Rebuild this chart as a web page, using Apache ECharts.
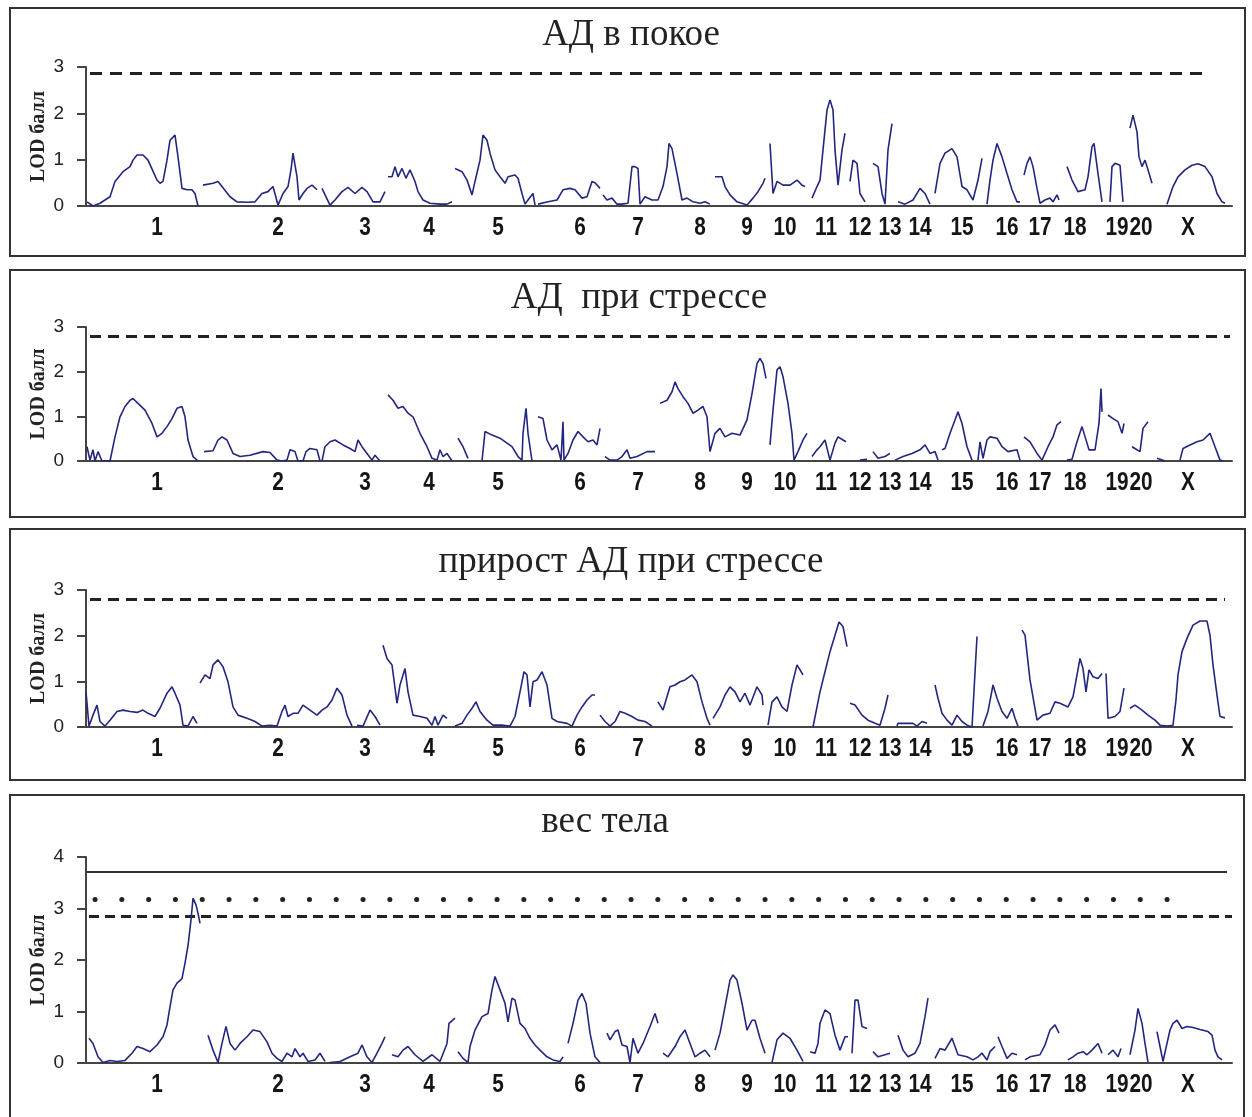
<!DOCTYPE html>
<html><head><meta charset="utf-8">
<script src="https://cdn.jsdelivr.net/npm/echarts@6/dist/echarts.min.js"></script>
<style>html,body{margin:0;padding:0;background:#fff}#c{width:1252px;height:1117px}</style>
</head><body><div id="c"></div>
<script>
// chromosome tick labels and their positions on the genome axis
const chromNames = ['1','2','3','4','5','6','7','8','9','10','11','12','13','14','15','16','17','18','19','20','X'];
const chromCenters = [71,192,279,343,412,494,552,614,661,699,740,774,804,834,876,921,954,989,1031,1055,1102];
const panelTitles = ['АД в покое','АД  при стрессе','прирост АД при стрессе','вес тела'];
const yName = 'LOD балл';
// thresholds (LOD)
const restThreshold = 2.87;
const stressThreshold = 2.8;
const gainThreshold = 2.8;
const weightThresholds = [3.71, 3.17, 2.84]; // solid, dotted, dashed

// LOD profiles: segments of [genome position, LOD]
const restLOD = [
 [[1,0.09],[7,0],[14,0.06],[24,0.2],[29,0.53],[37,0.74],[44,0.85],[47,0.99],[51,1.1],[57,1.1],[62,0.99],[71,0.56],[74,0.49],[77,0.53],[81,0.99],[84,1.42],[89,1.53],[92,1.06],[96,0.38],[101,0.35],[106,0.35],[109,0.27],[112,0]],
 [[117,0.45],[127,0.49],[132,0.53],[136,0.42],[144,0.2],[151,0.09],[161,0.08],[169,0.09],[176,0.27],[182,0.31],[187,0.42],[192,0.02],[197,0.27],[202,0.42],[205,0.78],[207,1.14],[211,0.63],[213,0.13],[217,0.27],[221,0.38],[226,0.45],[231,0.35]],
 [[236,0.38],[244,0.02],[249,0.13],[256,0.31],[262,0.4],[269,0.27],[276,0.4],[281,0.31],[287,0.09],[294,0.09],[299,0.31]],
 [[302,0.63],[306,0.63],[309,0.85],[312,0.63],[316,0.81],[320,0.6],[324,0.78],[329,0.53],[332,0.31],[337,0.13],[344,0.06],[354,0.04],[361,0.04],[366,0.09]],
 [[369,0.81],[376,0.74],[381,0.56],[386,0.24],[389,0.53],[394,0.99],[397,1.53],[401,1.42],[404,1.14],[409,0.78],[414,0.63],[419,0.49],[422,0.63],[429,0.67],[432,0.6],[436,0.27],[439,0.04],[442,0.13],[447,0.27],[449,0.02]],
 [[452,0.04],[454,0.07],[462,0.09],[471,0.13],[477,0.35],[484,0.38],[489,0.35],[496,0.17],[501,0.2],[506,0.53],[509,0.5],[514,0.38]],
 [[517,0.24],[521,0.13],[526,0.17],[531,0.04],[536,0.04],[542,0.06],[546,0.85],[549,0.85],[552,0.81],[554,0.04],[559,0.2],[566,0.13],[572,0.13],[577,0.42],[581,0.85],[583,1.35],[586,1.24],[591,0.7],[596,0.13],[601,0.17],[607,0.09],[614,0.06],[619,0.09],[624,0.04]],
 [[629,0.63],[636,0.63],[639,0.42],[644,0.24],[651,0.09],[661,0.02],[667,0.17],[672,0.31],[677,0.49],[679,0.6]],
 [[684,1.35],[687,0.27],[691,0.53],[697,0.45],[704,0.45],[711,0.56],[716,0.45],[719,0.42]],
 [[726,0.17],[731,0.42],[734,0.56],[737,1.21],[741,2.07],[744,2.29],[747,2.07],[749,1.21],[752,0.45],[756,1.21],[759,1.57]],
 [[764,0.53],[767,0.99],[771,0.92],[774,0.27],[779,0.09]],
 [[787,0.92],[792,0.85],[796,0.27],[799,0.04],[802,1.21],[806,1.78]],
 [[812,0.09],[819,0.04],[827,0.13],[834,0.38],[839,0.27],[844,0.04]],
 [[849,0.27],[854,0.92],[859,1.14],[866,1.24],[871,1.06],[876,0.42],[881,0.35],[887,0.13],[892,0.56],[896,1.03]],
 [[901,0.04],[904,0.56],[907,0.99],[911,1.35],[916,1.06],[921,0.7],[926,0.35],[931,0.09],[934,0.09]],
 [[938,0.67],[941,0.92],[944,1.06],[947,0.85],[951,0.38],[954,0.06],[959,0.13],[964,0.17],[967,0.09],[971,0.24],[973,0.13]],
 [[981,0.85],[986,0.56],[992,0.31],[999,0.35],[1002,0.63],[1006,1.28],[1008,1.35],[1012,0.7],[1016,0.09]],
 [[1024,0.09],[1026,0.85],[1029,0.92],[1034,0.88],[1037,0.09]],
 [[1044,1.68],[1047,1.96],[1051,1.6],[1053,1.06],[1056,0.85],[1059,0.99],[1062,0.78],[1066,0.49]],
 [[1081,0.04],[1087,0.42],[1092,0.63],[1099,0.78],[1106,0.88],[1112,0.91],[1119,0.85],[1126,0.63],[1131,0.27],[1136,0.09],[1139,0.06]]
];
const stressLOD = [
 [[1,0.32],[4,0.02],[7,0.25],[9,0],[12,0.21],[16,0],[24,0],[29,0.54],[34,0.99],[39,1.22],[44,1.36],[47,1.4],[52,1.29],[59,1.14],[66,0.84],[71,0.54],[76,0.62],[81,0.77],[86,0.95],[91,1.18],[96,1.22],[99,0.99],[102,0.47],[107,0.1],[112,0]],
 [[118,0.21],[127,0.23],[132,0.47],[136,0.54],[141,0.47],[147,0.17],[154,0.1],[164,0.13],[177,0.21],[184,0.19],[191,0.02],[196,0],[201,0.02],[204,0.25],[209,0.21],[212,0],[217,0],[220,0.21],[224,0.28],[231,0.25],[234,0]],
 [[236,0],[239,0.32],[244,0.43],[249,0.47],[257,0.36],[264,0.28],[269,0.21],[272,0.47],[276,0.32],[281,0.17],[286,0.02],[289,0.13],[294,0]],
 [[302,1.48],[307,1.36],[312,1.18],[317,1.22],[322,1.07],[327,0.99],[334,0.62],[341,0.32],[346,0.06],[351,0.02],[354,0.25],[357,0.1],[361,0.17],[366,0]],
 [[372,0.51],[377,0.32],[382,0.06]],
 [[396,0],[399,0.66],[406,0.58],[414,0.51],[421,0.4],[426,0.32],[432,0.1],[436,0.02],[437,0.62],[440,1.18],[442,0.62],[446,0]],
 [[452,0.99],[457,0.95],[461,0.47],[466,0.25],[471,0.36],[475,0.02],[477,0.88],[478,0.02],[482,0.17],[487,0.47],[492,0.66],[497,0.54],[502,0.43],[507,0.47],[511,0.36],[514,0.73]],
 [[519,0.1],[524,0.02],[531,0.02],[536,0.1],[541,0.25],[544,0.06],[551,0.1],[561,0.21],[569,0.21]],
 [[574,1.29],[581,1.36],[586,1.55],[589,1.77],[592,1.62],[597,1.44],[602,1.29],[607,1.07],[612,1.14],[617,1.22],[621,0.99],[624,0.21],[629,0.62],[634,0.73],[639,0.54],[646,0.62],[654,0.58],[661,0.92],[666,1.51],[671,2.18],[674,2.3],[677,2.18],[680,1.85]],
 [[684,0.36],[687,1.14],[691,2.04],[694,2.11],[697,1.89],[702,1.29],[706,0.62],[708,0.02],[712,0.21],[717,0.47],[721,0.62]],
 [[726,0.1],[731,0.25],[734,0.32],[739,0.47],[744,0.02],[749,0.4],[752,0.54],[757,0.47],[760,0.43]],
 [[774,0.02],[781,0.04]],
 [[787,0.21],[792,0.06],[799,0.1],[804,0.17]],
 [[809,0.02],[817,0.1],[826,0.17],[834,0.25],[839,0.36],[844,0.17],[849,0.21],[852,0.02]],
 [[856,0.25],[859,0.28],[864,0.62],[869,0.92],[872,1.1],[876,0.84],[881,0.32],[886,0.02]],
 [[892,0.02],[894,0.43],[897,0.06],[901,0.47],[904,0.54],[911,0.51],[916,0.32],[922,0.21],[931,0.25],[934,0.02]],
 [[938,0.54],[944,0.43],[951,0.17],[956,0.02],[962,0.32],[967,0.54],[971,0.81],[975,0.88]],
 [[981,0.02],[986,0.04],[991,0.43],[996,0.77],[1001,0.4],[1003,0.25],[1009,0.25],[1013,0.84],[1015,1.62],[1016,1.1]],
 [[1022,1.03],[1027,0.95],[1032,0.88],[1036,0.62],[1038,0.84]],
 [[1046,0.32],[1049,0.28],[1054,0.21],[1057,0.73],[1062,0.88]],
 [[1071,0.06],[1074,0.04],[1079,0]],
 [[1094,0.02],[1097,0.28],[1104,0.36],[1111,0.43],[1117,0.47],[1124,0.62],[1129,0.32],[1134,0.02],[1137,0]]
];
const gainLOD = [
 [[0,0.77],[3,0.02],[7,0.26],[11,0.48],[14,0.12],[19,0.02],[24,0.15],[31,0.34],[37,0.37],[44,0.34],[51,0.32],[57,0.37],[62,0.3],[69,0.23],[74,0.41],[81,0.74],[86,0.88],[89,0.74],[94,0.48],[97,0.04],[102,0.02],[107,0.23],[111,0.08]],
 [[114,0.96],[119,1.14],[124,1.06],[127,1.36],[132,1.47],[137,1.32],[142,0.99],[147,0.44],[152,0.26],[161,0.19],[169,0.12],[176,0.02],[184,0.04],[191,0.02],[196,0.34],[199,0.48],[202,0.23],[207,0.3],[212,0.3],[217,0.48],[224,0.37],[231,0.26],[236,0.37],[241,0.44],[246,0.59],[251,0.85],[256,0.7],[261,0.26],[266,0.02]],
 [[271,0.04],[277,0.02],[284,0.37],[289,0.23],[294,0.04]],
 [[297,1.79],[301,1.5],[306,1.36],[311,0.52],[314,0.92],[319,1.28],[322,0.77],[327,0.26],[334,0.23],[341,0.19],[346,0.04],[349,0.23],[352,0.04],[357,0.26],[361,0.19]],
 [[369,0.02],[376,0.08],[381,0.26],[386,0.41],[390,0.55],[394,0.34],[401,0.15],[407,0.04],[417,0.04],[424,0.02],[429,0.23],[434,0.77],[438,1.21],[441,1.14],[444,0.44],[447,0.99],[451,1.03],[456,1.21],[457,1.25],[461,0.92],[466,0.19],[471,0.12],[481,0.08],[486,0.02],[491,0.26],[496,0.44],[501,0.59],[506,0.7],[509,0.7]],
 [[514,0.26],[519,0.12],[524,0.02],[529,0.12],[534,0.34],[539,0.3],[546,0.23],[552,0.15],[559,0.12],[566,0.02]],
 [[572,0.55],[577,0.37],[584,0.88],[589,0.92],[594,0.99],[599,1.03],[606,1.14],[611,0.99],[616,0.55],[621,0.19],[624,0.04]],
 [[627,0.19],[634,0.44],[639,0.7],[644,0.88],[649,0.77],[654,0.55],[659,0.74],[664,0.48],[671,0.88],[676,0.7],[677,0.48]],
 [[682,0.04],[686,0.55],[691,0.66],[696,0.44],[701,0.34],[706,0.92],[711,1.36],[717,1.14]],
 [[727,0],[734,0.77],[739,1.21],[744,1.65],[749,2.01],[753,2.3],[757,2.2],[761,1.76]],
 [[764,0.52],[769,0.48],[776,0.26],[782,0.15],[789,0.08],[794,0.04],[799,0.41],[802,0.7]],
 [[811,0.02],[812,0.08],[827,0.08],[831,0.02],[836,0.12],[841,0.08]],
 [[849,0.92],[852,0.63],[856,0.3],[861,0.15],[866,0.04],[871,0.26],[876,0.12],[881,0.04],[886,0],[891,1.98]],
 [[897,0.02],[902,0.34],[907,0.92],[911,0.63],[916,0.34],[921,0.19],[926,0.41],[929,0.19],[932,0.02]],
 [[936,2.12],[939,2.01],[944,1.03],[951,0.15],[957,0.26],[964,0.3],[969,0.55],[974,0.52],[982,0.44],[987,0.66],[991,1.14],[994,1.5],[997,1.28],[1000,0.77],[1003,1.25],[1007,1.1],[1012,1.06],[1016,1.17]],
 [[1020,1.17],[1022,0.19],[1029,0.23],[1034,0.34],[1038,0.85]],
 [[1044,0.41],[1049,0.48],[1056,0.37],[1062,0.26],[1069,0.15],[1074,0.04],[1081,0.02],[1087,0.04],[1090,0.6],[1092,1.14],[1096,1.65],[1101,1.94],[1107,2.23],[1114,2.32],[1121,2.32],[1124,2.01],[1127,1.36],[1131,0.7],[1134,0.23],[1139,0.2]]
];
const weightLOD = [
 [[3,0.48],[7,0.38],[12,0.12],[17,0.01],[24,0.05],[31,0.03],[39,0.05],[46,0.19],[51,0.32],[57,0.28],[64,0.22],[71,0.35],[77,0.51],[81,0.74],[84,1.09],[87,1.42],[91,1.55],[96,1.64],[99,1.94],[102,2.28],[105,2.78],[107,3.2],[110,3.07],[112,2.91],[114,2.71]],
 [[122,0.54],[127,0.25],[132,0.01],[136,0.38],[140,0.71],[144,0.38],[149,0.25],[154,0.38],[161,0.51],[167,0.64],[174,0.61],[181,0.41],[186,0.19],[191,0.09],[196,0.03],[201,0.19],[206,0.12],[209,0.28],[214,0.12],[217,0.19],[222,0.03],[229,0.06],[234,0.19],[239,0.03]],
 [[244,0.01],[254,0.03],[264,0.12],[272,0.19],[276,0.35],[281,0.12],[286,0.01],[291,0.19],[296,0.38],[299,0.51]],
 [[306,0.16],[312,0.12],[317,0.25],[322,0.32],[329,0.16],[337,0.03],[346,0.16],[354,0.03],[361,0.38],[363,0.77],[369,0.87]],
 [[372,0.22],[377,0.09],[382,0.01],[384,0.32],[389,0.64],[396,0.9],[402,0.96],[406,1.42],[409,1.68],[414,1.42],[419,1.16],[422,0.8],[426,1.26],[429,1.22],[434,0.77],[439,0.67],[444,0.48],[449,0.35],[454,0.25],[461,0.12],[467,0.06],[474,0.03],[477,0.12]],
 [[482,0.38],[487,0.77],[492,1.22],[496,1.35],[500,1.16],[504,0.58],[509,0.12],[514,0.01]],
 [[521,0.58],[524,0.45],[529,0.61],[532,0.64],[536,0.35],[541,0.32],[544,0.01],[547,0.48],[552,0.19],[557,0.38],[564,0.71],[569,0.96],[572,0.77]],
 [[577,0.19],[582,0.12],[589,0.32],[594,0.51],[599,0.64],[604,0.38],[609,0.12],[614,0.19],[619,0.25],[624,0.12]],
 [[629,0.25],[634,0.58],[639,1.09],[644,1.61],[647,1.71],[651,1.61],[656,1.16],[661,0.64],[666,0.83],[669,0.83],[674,0.48],[679,0.19]],
 [[686,0.01],[691,0.45],[697,0.58],[704,0.48],[711,0.25],[717,0.03]],
 [[724,0.22],[729,0.19],[732,0.38],[734,0.77],[739,1.03],[744,0.96],[749,0.54],[754,0.25],[759,0.51],[762,0.51]],
 [[766,0.19],[769,1.22],[772,1.22],[776,0.71],[781,0.67]],
 [[787,0.22],[792,0.12],[799,0.16],[804,0.19]],
 [[812,0.54],[817,0.25],[822,0.12],[829,0.19],[834,0.38],[839,0.9],[842,1.26]],
 [[849,0.09],[854,0.28],[859,0.25],[866,0.48],[872,0.16],[881,0.12],[887,0.06],[892,0.12],[896,0.19],[901,0.06],[904,0.22],[909,0.32]],
 [[912,0.51],[916,0.32],[921,0.09],[926,0.19],[931,0.16]],
 [[939,0.06],[944,0.12],[954,0.16],[959,0.35],[964,0.64],[969,0.74],[973,0.58]],
 [[982,0.06],[987,0.12],[992,0.19],[997,0.22],[1001,0.16],[1006,0.25],[1012,0.38],[1016,0.19]],
 [[1022,0.16],[1027,0.25],[1032,0.12],[1035,0.28]],
 [[1044,0.16],[1049,0.64],[1052,1.06],[1056,0.77],[1059,0.38],[1062,0.01]],
 [[1071,0.61],[1074,0.32],[1077,0.03],[1081,0.38],[1084,0.64],[1087,0.77],[1091,0.83],[1096,0.67],[1101,0.71],[1107,0.69],[1114,0.65],[1122,0.61],[1126,0.54],[1129,0.25],[1132,0.12],[1136,0.06]]
];

// ---------- layout / styling ----------
const X_MAX = 1146;
const LINE_COLOR = '#23267f';
const AXIS_COLOR = '#444';

function joinSegments(segs) {
  const out = [];
  segs.forEach((s, i) => {
    if (i) out.push(['-', '-']);
    s.forEach(p => out.push(p));
  });
  return out;
}
function hLine(y, x0, x1, style) {
  return [{ coord: [x0, y], lineStyle: style }, { coord: [x1, y] }];
}

const panels = [
  { data: restLOD, top: 67, height: 139, ymax: 3, titleY: 35, titleX: 631, frame: [10, 8, 1235, 248],
    lines: [hLine(restThreshold, 4, 1124, { type: [12, 8], width: 3, color: '#222' })] },
  { data: stressLOD, top: 327, height: 134, ymax: 3, titleY: 298, titleX: 639, frame: [10, 270, 1235, 247],
    lines: [hLine(stressThreshold, 4, 1144, { type: [11, 7], width: 3, color: '#222' })] },
  { data: gainLOD, top: 590, height: 137, ymax: 3, titleY: 562, titleX: 631, frame: [10, 529, 1235, 251],
    lines: [hLine(gainThreshold, 4, 1139, { type: [11, 7], width: 3, color: '#222' })] },
  { data: weightLOD, top: 857, height: 206, ymax: 4, titleY: 822, titleX: 605, frame: [10, 795, 1234, 340],
    lines: [
      hLine(weightThresholds[0], 0, 1141, { type: 'solid', width: 2, color: '#333' }),
      hLine(weightThresholds[1], 9, 1106, { type: [0.1, 26.7], width: 5, color: '#222', cap: 'round' }),
      hLine(weightThresholds[2], 3, 1146, { type: [10, 6], width: 3, color: '#222' })
    ] }
];

const grid = [], xAxis = [], yAxis = [], series = [], graphic = [];
panels.forEach((p, i) => {
  grid.push({ left: 86, width: X_MAX, top: p.top, height: p.height });
  xAxis.push({
    type: 'value', gridIndex: i, min: 0, max: X_MAX,
    axisLine: { show: true, onZero: true, lineStyle: { color: AXIS_COLOR, width: 2 } },
    axisTick: { show: false },
    splitLine: { show: false },
    axisLabel: { show: false }
  });
  yAxis.push({
    type: 'value', gridIndex: i, min: 0, max: p.ymax, interval: 1,
    name: yName, nameLocation: 'middle', nameGap: 37, nameRotate: 90, nameMoveOverlap: false,
    nameTextStyle: { fontFamily: '"Liberation Serif", "Times New Roman", serif', fontWeight: 'bold', fontSize: 20, color: '#222' },
    axisLine: { show: true, lineStyle: { color: AXIS_COLOR, width: 2 } },
    axisTick: { show: true, length: 9, inside: false, lineStyle: { color: AXIS_COLOR, width: 2 } },
    splitLine: { show: false },
    axisLabel: { fontFamily: '"Liberation Sans", Arial, sans-serif', fontSize: 19, color: '#222', margin: 22 }
  });
  series.push({
    type: 'line', xAxisIndex: i, yAxisIndex: i,
    data: joinSegments(p.data),
    showSymbol: false, connectNulls: false,
    lineStyle: { color: LINE_COLOR, width: 1.6 },
    z: 3,
    markLine: { silent: true, symbol: 'none', label: { show: false }, data: p.lines, animation: false, z: 2 }
  });
  graphic.push({
    type: 'rect', shape: { x: p.frame[0], y: p.frame[1], width: p.frame[2], height: p.frame[3] },
    style: { fill: 'none', stroke: '#333', lineWidth: 2 }, z: 0, silent: true
  });
  graphic.push({
    type: 'text', x: p.titleX, y: p.titleY, silent: true,
    style: { text: panelTitles[i], font: '37px "Liberation Serif", "Times New Roman", serif', fill: '#222',
             align: 'center', verticalAlign: 'middle', textAlign: 'center', textVerticalAlign: 'middle' }
  });
});

const chart = echarts.init(document.getElementById('c'), null, { renderer: 'canvas' });
chart.setOption({ animation: false, backgroundColor: '#fff', grid, xAxis, yAxis, series, graphic });

// chromosome labels under each x axis, placed through the axis scale (condensed bold)
panels.forEach((p, i) => {
  chromCenters.forEach((c, j) => {
    const pt = chart.convertToPixel({ gridIndex: i }, [c, 0]);
    graphic.push({
      type: 'text', x: pt[0], y: pt[1] + 22, scaleX: 0.8, silent: true,
      style: { text: chromNames[j], font: 'bold 26px "Liberation Sans", Arial, sans-serif', fill: '#151515',
               align: 'center', verticalAlign: 'middle', textAlign: 'center', textVerticalAlign: 'middle' }
    });
  });
});
chart.setOption({ graphic });
</script>
</body></html>
